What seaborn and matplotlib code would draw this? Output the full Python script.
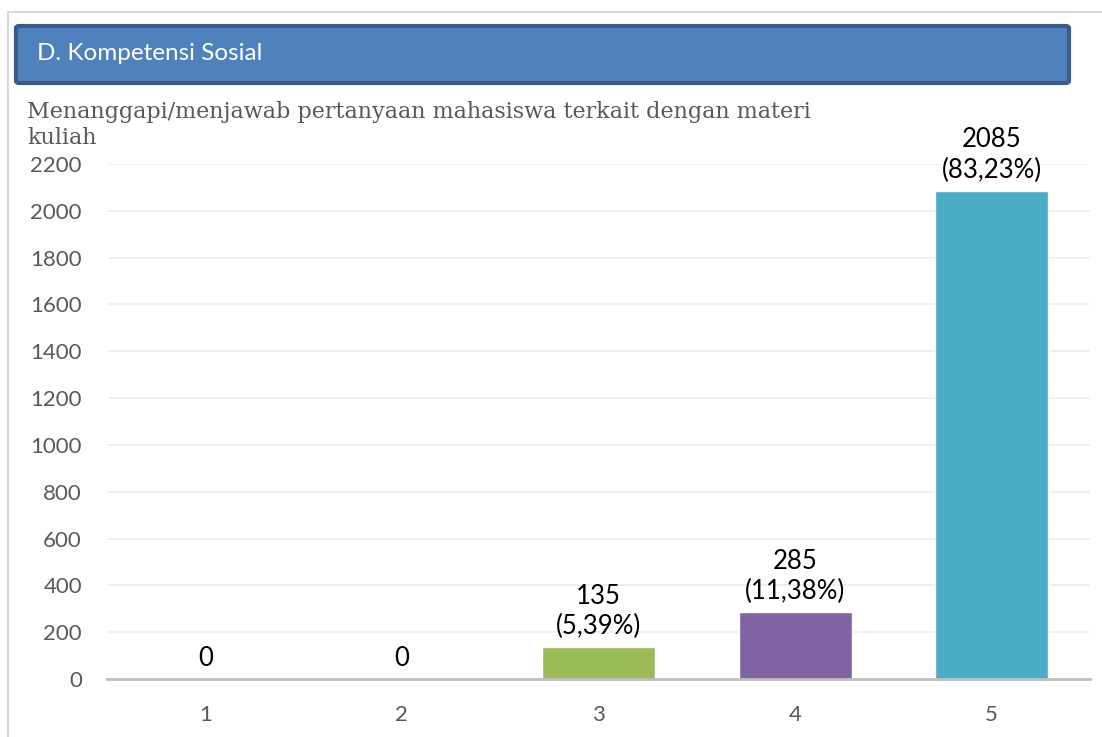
import matplotlib
matplotlib.use("Agg")
import matplotlib.pyplot as plt
import matplotlib.patches as mpatches
import matplotlib.lines as mlines
import pandas as pd
import seaborn as sns

# data
kategori = ["1", "2", "3", "4", "5"]
jumlah = [0, 0, 135, 285, 2085]
persen = ["", "", "5,39%", "11,38%", "83,23%"]
warna = ["#4F81BD", "#C0504D", "#9BBB59", "#8064A2", "#4BACC6"]
y_ticks = [0, 200, 400, 600, 800, 1000, 1200, 1400, 1600, 1800, 2000, 2200]

judul = "D. Kompetensi Sosial"
sub_judul = "Menanggapi/menjawab pertanyaan mahasiswa terkait dengan materi\nkuliah"

sns.set_style("white")
plt.rcParams["font.family"] = ["Lato", "DejaVu Sans"]

df = pd.DataFrame({"kategori": kategori, "jumlah": jumlah})

fig = plt.figure(figsize=(11.02, 7.37), dpi=100)
ax = fig.add_axes([107 / 1102, 1 - 679 / 737, (1090 - 107) / 1102, (679 - 164) / 737])

sns.barplot(data=df, x="kategori", y="jumlah", hue="kategori",
            palette=warna, width=0.575, legend=False, ax=ax, saturation=1)

ax.set_xlim(-0.5, 4.5)
ax.set_ylim(0, 2200)
ax.set_yticks(y_ticks)
ax.yaxis.grid(True, color="#EDEDED", linewidth=1.2)
ax.set_axisbelow(True)
for s in ["top", "right", "left"]:
    ax.spines[s].set_visible(False)
ax.spines["bottom"].set_color("#BFBFBF")
ax.spines["bottom"].set_linewidth(2)
ax.tick_params(axis="y", length=0, pad=18, labelsize=16, labelcolor="#595959")
ax.tick_params(axis="x", length=0, pad=19, labelsize=16, labelcolor="#595959")
ax.set_xlabel("")
ax.set_ylabel("")

# value labels
for i, (v, p) in enumerate(zip(jumlah, persen)):
    teks = f"{v}\n({p})" if p else f"{v}"
    ax.annotate(teks, (i, v), xytext=(0, 6), textcoords="offset points",
                ha="center", va="bottom", fontsize=18.5, color="black",
                linespacing=1.25, annotation_clip=False)

# outer frame lines
fig.add_artist(mlines.Line2D([8 / 1102, 1], [1 - 12 / 737] * 2, color="#D9D9D9", linewidth=1.5))
fig.add_artist(mlines.Line2D([8 / 1102] * 2, [0, 1 - 12 / 737], color="#D9D9D9", linewidth=1.5))

# header box
kotak = mpatches.FancyBboxPatch((16 / 1102, 1 - 83 / 737), (1069 - 16) / 1102, (83 - 26) / 737,
                                boxstyle="round,pad=0,rounding_size=0.003",
                                transform=fig.transFigure, facecolor="#4F81BD",
                                edgecolor="#385D8A", linewidth=3)
fig.add_artist(kotak)
fig.text(37 / 1102, 1 - 53 / 737, judul, color="white", fontsize=17.5, va="center", ha="left")

fig.text(27 / 1102, 1 - 149 / 737, sub_judul, color="#595959", fontsize=16,
         family=["DejaVu Serif"], va="bottom", ha="left", linespacing=1.25)

fig.savefig("out.png", dpi=100)
